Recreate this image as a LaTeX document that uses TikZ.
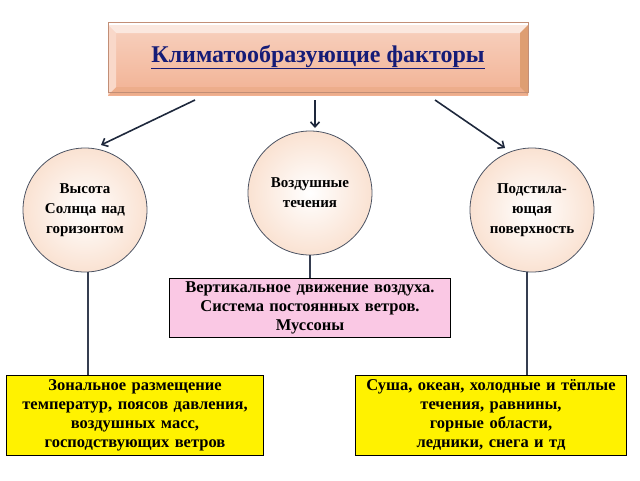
\documentclass[tikz,border=0pt]{standalone}
\usepackage{fontspec}
\setmainfont{Liberation Serif}
\usetikzlibrary{arrows.meta,positioning}
\definecolor{salmon}{RGB}{242,178,148}
\definecolor{circfill}{RGB}{250,226,210}
\definecolor{navy}{RGB}{30,40,60}
\definecolor{lilac}{RGB}{250,200,228}
\tikzset{
  circ/.style={circle, draw=navy!80, thick, inner color=white, outer color=circfill,
    minimum size=124pt, text width=100pt, align=center, font=\bfseries\fontsize{15}{20}\selectfont},
  fbox/.style={rectangle, draw=black, thick, align=center, font=\bfseries\fontsize{16.5}{19}\selectfont},
  arr/.style={-{Straight Barb[length=5pt,width=9pt]}, navy, line width=1.6pt},
  lnk/.style={navy!90, line width=1.4pt}
}
\begin{document}
\begin{tikzpicture}[x=1pt,y=-1pt]
  \useasboundingbox (0,0) rectangle (640,480);

  % title box with bevel
  \fill[top color=salmon!60!white, bottom color=salmon] (108,25) rectangle (528,95);
  \fill[salmon!30!white] (108,25) -- (528,25) -- (520,33) -- (116,33) -- cycle;
  \fill[salmon!90!brown] (108,95) -- (528,95) -- (520,87) -- (116,87) -- cycle;
  \fill[salmon!60!brown] (528,25) -- (528,95) -- (520,87) -- (520,33) -- cycle;
  \fill[salmon!50!white] (108,25) -- (108,95) -- (116,87) -- (116,33) -- cycle;
  \node[draw=salmon!80!black, thin, minimum width=420pt, minimum height=70pt] (title) at (318,57)
    {\fontsize{24}{26}\selectfont\bfseries\color{navy!70!blue}\underline{Климатообразующие факторы}};

  % circles
  \node[circ] (sun) at (85,210) {Высота\\ Солнца над\\ горизонтом};
  \node[circ] (air) at (310,193) {Воздушные\\ течения};
  \node[circ] (surf) at (532,210) {Подстила-\\ющая\\ поверхность};

  % arrows from the title
  \coordinate (t1) at (195,100);
  \coordinate (t2) at (315,100);
  \coordinate (t3) at (435,100);
  \coordinate (e1) at (101,145);
  \coordinate (e2) at (315,128);
  \coordinate (e3) at (505,148);
  \draw[arr] (t1) -- (e1);
  \draw[arr] (t2) -- (e2);
  \draw[arr] (t3) -- (e3);

  % boxes
  \node[fbox, fill=lilac, minimum width=280pt, minimum height=55pt, text width=275pt] (vert) at (310,307.5)
    {Вертикальное движение воздуха.\\ Система постоянных ветров.\\ Муссоны};
  \node[fbox, fill=yellow, minimum width=254pt, minimum height=80pt, text width=250pt] (zone) at (135,415)
    {Зональное размещение\\ температур, поясов давления,\\ воздушных масс,\\ господствующих ветров};
  \node[fbox, fill=yellow, minimum width=268pt, minimum height=80pt, text width=265pt] (land) at (491,415)
    {Суша, океан, холодные и тёплые\\ течения, равнины, горные области,\\ ледники, снега и тд};

  % links
  \draw[lnk] (sun.south) ++(3,0) coordinate (s1) (s1) -- (zone.north -| s1);
  \draw[lnk] (air) -- (vert);
  \draw[lnk] (surf.south) ++(-5,0) coordinate (s3) (s3) -- (land.north -| s3);
\end{tikzpicture}
\end{document}
